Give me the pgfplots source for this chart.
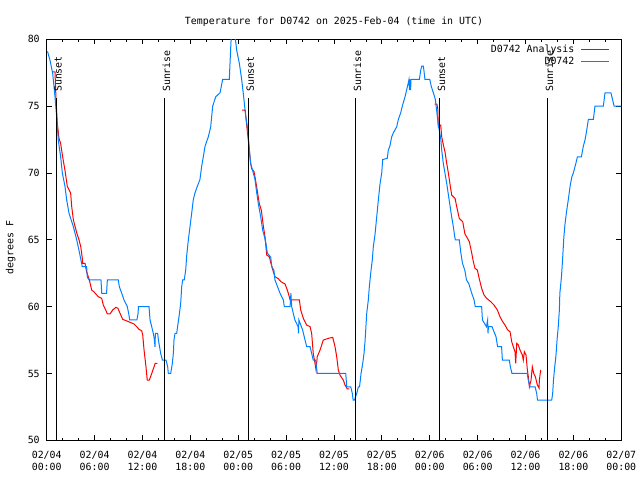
\documentclass[border=0pt]{standalone}
\usepackage{fontspec}
\setmainfont{DejaVu Sans Mono}
\usepackage{pgfplots}
\pgfplotsset{compat=1.18}
\definecolor{obsblue}{RGB}{0,128,255}
\newcommand\gfont{\fontsize{9.9bp}{12bp}\selectfont}
\begin{document}
\gfont
\begin{tikzpicture}
\useasboundingbox (0,0) rectangle (640bp,480bp);
\begin{axis}[
  at={(46.7bp,39.7bp)}, anchor=south west,
  scale only axis, width=574.6bp, height=401bp,
  xmin=0, xmax=72, ymin=50, ymax=80,
  xtick={0,6,...,72},
  xticklabels={{02/04\\00:00},{02/04\\06:00},{02/04\\12:00},{02/04\\18:00},{02/05\\00:00},{02/05\\06:00},{02/05\\12:00},{02/05\\18:00},{02/06\\00:00},{02/06\\06:00},{02/06\\12:00},{02/06\\18:00},{02/07\\00:00}},
  minor x tick num=2,
  ytick={50,55,...,80},
  tick align=inside,
  major tick length=5bp, minor tick length=2.5bp,
  axis line style={line width=0.8bp},
  every tick/.style={black, line width=0.8bp},
  /pgf/number format/assume math mode=true,
  xticklabel style={align=center, font=\gfont, yshift=-7bp},
  yticklabel style={font=\gfont, xshift=-3.5bp},
  title={Temperature for D0742 on 2025-Feb-04 (time in UTC)},
  title style={at={(0.5,1)}, anchor=base, yshift=9.3bp, font=\gfont},
  ylabel={degrees F},
  ylabel style={at={(axis description cs:-0.0578,0.481)}, anchor=base, font=\gfont},
  legend plot pos=right,
  legend cell align=right,
  legend style={at={(axis description cs:1,1)}, anchor=north east, xshift=-11.3bp, yshift=-4bp,
    draw=none, fill=none, inner sep=0pt, font=\gfont, column sep=5bp, row sep=0pt,
    nodes={inner sep=1.15bp, text height=7.5bp, text depth=2.5bp}},
  legend image code/.code={\draw[#1] (0bp,0bp) -- (28.3bp,0bp);},
]
% Analysis (red)
\addplot[red, line width=1bp] coordinates {
(0.7,77.56) (1.04,77.56) (1.17,75.45) (1.33,73.7) (1.54,72.6) (1.75,72.2) (2.0,71.2) (2.29,70.2)
(2.58,69.0) (3.0,68.5) (3.13,67.5) (3.34,66.5) (3.55,66.0) (3.8,65.45) (4.05,65.0) (4.26,64.5)
(4.47,63.6) (4.5,63.24) (4.8,63.24) (5.0,62.6) (5.34,62.0) (5.64,61.24) (5.93,61.1) (6.47,60.74)
(6.89,60.62) (7.1,60.1) (7.39,59.75) (7.6,59.45) (7.93,59.45) (8.27,59.75) (8.68,59.95) (8.93,59.87)
(9.19,59.5) (9.52,59.05) (9.94,58.95) (10.44,58.83) (10.94,58.7) (11.28,58.5) (11.57,58.3) (11.9,58.2)
(12.03,57.88) (12.2,56.75) (12.44,55.5) (12.6,54.5) (12.86,54.5) (13.16,55.0) (13.45,55.5) (13.6,55.76)
(13.86,55.76)
};
\addlegendentry{D0742 Analysis}
\addplot[red, line width=1bp, forget plot] coordinates {
(24.5,74.7) (24.87,74.7) (25.0,73.9) (25.06,73.58) (25.26,72.46) (25.56,70.7) (25.7,70.3) (25.98,70.1)
(26.1,69.7) (26.3,69.0) (26.64,67.7) (26.9,67.2) (27.15,66.0) (27.36,65.2) (27.57,63.86) (27.9,63.73)
(28.1,63.24) (28.4,62.6) (28.6,62.24) (29.0,62.1) (29.36,61.86) (29.86,61.7) (30.07,61.37) (30.28,61.0)
(30.5,60.5) (31.66,60.5) (31.83,59.75) (32.16,59.12) (32.58,58.62) (33.0,58.5) (33.2,58.0) (33.4,56.5)
(33.62,55.76) (33.75,55.26) (33.9,56.25) (34.25,56.75) (34.66,57.5) (35.3,57.63) (35.84,57.7) (36.13,57.0)
(36.34,56.25) (36.54,55.26) (36.75,54.88) (37.17,54.5) (37.38,54.14) (37.67,53.84) (37.92,53.84)
};
\addplot[red, line width=1bp, forget plot] coordinates {
(48.6,75.15) (48.9,75.15) (49.0,74.8) (49.07,73.45) (49.37,73.58) (49.5,72.7) (49.7,72.1) (49.9,71.6)
(50.13,70.7) (50.33,70.0) (50.55,69.1) (50.75,68.35) (51.17,68.1) (51.38,67.47) (51.7,66.6) (52.13,66.35)
(52.4,65.45) (52.83,65.0) (52.96,64.85) (53.26,64.0) (53.46,63.36) (53.67,62.86) (53.96,62.74) (54.2,62.1)
(54.5,61.37) (54.8,60.87) (55.13,60.62) (55.64,60.37) (56.05,60.12) (56.47,59.75) (56.8,59.24) (57.14,58.87)
(57.43,58.62) (57.77,58.25) (58.06,58.12) (58.27,57.37) (58.47,57.0) (58.68,56.63) (58.77,55.76) (58.9,57.25)
(59.1,57.13) (59.31,56.75) (59.6,56.38) (59.72,56.0) (59.85,56.63) (60.06,56.38) (60.23,55.26) (60.35,54.76)
(60.48,54.0) (60.69,54.5) (60.85,55.5) (61.03,55.0) (61.23,54.76) (61.48,54.14) (61.7,53.9) (61.73,54.5)
(61.9,55.26)
};
% Observations (blue)
\addplot[obsblue, line width=1bp] coordinates {
(0.1,79.1) (0.41,78.44) (0.75,77.45) (1.04,75.7) (1.25,74.2) (1.45,72.46) (1.75,71.2) (1.96,70.0)
(2.29,69.0) (2.5,68.0) (2.79,67.0) (3.33,66.0) (3.76,65.0) (4.05,64.2) (4.39,63.2) (4.45,63.0)
(5.0,63.0) (5.09,62.2) (5.3,62.0) (6.8,62.0) (6.9,61.0) (7.5,61.0) (7.6,62.0) (8.97,62.0)
(9.1,61.5) (9.4,61.0) (9.69,60.5) (10.1,60.0) (10.3,59.4) (10.4,59.0) (11.3,59.0) (11.45,59.5)
(11.5,60.0) (12.82,60.0) (12.95,59.0) (13.16,58.5) (13.36,58.0) (13.5,57.5) (13.57,57.0) (13.62,58.0)
(13.9,58.0) (14.0,57.5) (14.28,56.5) (14.5,56.0) (14.95,56.0) (15.16,55.5) (15.24,55.0) (15.54,55.0)
(15.74,55.75) (15.87,56.5) (15.95,57.5) (16.08,58.0) (16.29,58.0) (16.4,58.5) (16.58,59.25) (16.79,60.25)
(16.92,61.5) (17.04,62.0) (17.24,62.0) (17.42,62.75) (17.54,63.8) (17.75,65.0) (17.96,66.0) (18.17,67.0)
(18.37,68.0) (18.58,68.5) (18.87,69.0) (19.2,69.5) (19.42,70.5) (19.62,71.2) (19.84,72.0) (20.25,72.7)
(20.55,73.45) (20.8,75.0) (21.18,75.7) (21.72,76.0) (22.05,77.0) (22.88,77.0) (23.06,79.4) (23.15,80.5)
(23.55,80.5) (23.8,79.2) (24.14,78.2) (24.43,77.0) (24.68,75.7) (24.9,74.45) (25.2,73.2) (25.43,71.5)
(25.56,70.7) (25.89,70.0) (26.1,69.5) (26.32,68.5) (26.52,67.7) (26.82,66.7) (27.07,65.7) (27.3,65.2)
(27.48,64.7) (27.65,64.0) (28.07,63.7) (28.2,63.0) (28.48,62.7) (28.6,62.0) (29.24,61.0) (29.65,60.5)
(29.78,60.0) (30.5,60.0) (30.6,61.0) (30.7,60.0) (31.1,59.0) (31.5,58.5) (31.55,58.0) (31.6,59.0)
(32.07,58.25) (32.37,57.5) (32.58,57.0) (33.0,57.0) (33.2,56.5) (33.4,56.0) (33.7,56.0) (33.9,55.0)
(37.47,55.0) (37.6,54.0) (38.1,54.0) (38.3,53.5) (38.4,53.0) (38.55,53.0) (38.85,53.5) (39.05,54.0)
(39.2,54.0) (39.39,55.0) (39.6,55.76) (39.76,56.5) (39.9,57.5) (40.0,58.5) (40.1,59.5) (40.3,60.5)
(40.43,61.5) (40.6,62.5) (40.8,63.5) (40.93,64.5) (41.14,65.4) (41.35,66.7) (41.56,68.0) (41.77,69.2)
(41.98,70.0) (42.1,71.0) (42.68,71.1) (42.8,71.7) (43.0,72.0) (43.23,72.7) (43.43,73.0) (43.86,73.45)
(44.06,74.0) (44.36,74.5) (44.56,75.0) (44.9,75.7) (45.1,76.2) (45.4,77.0) (45.45,76.2) (45.5,77.0)
(45.6,76.2) (45.65,77.0) (46.7,77.0) (46.87,77.7) (47.0,78.0) (47.2,78.0) (47.4,77.0) (48.0,77.0)
(48.2,76.45) (48.45,76.0) (48.7,75.5) (49.07,73.6) (49.37,72.6) (49.5,71.7) (49.7,70.7) (49.9,70.0)
(50.13,69.2) (50.3,68.5) (50.5,67.7) (50.75,66.7) (50.95,66.0) (51.1,65.35) (51.2,65.0) (51.7,65.0)
(51.9,64.0) (52.1,63.24) (52.4,62.7) (52.6,62.0) (52.9,61.7) (53.26,61.0) (53.55,60.5) (53.7,60.0)
(54.5,60.0) (54.6,59.0) (55.1,58.5) (55.25,59.0) (55.3,58.0) (55.35,58.5) (55.8,58.5) (56.3,57.75)
(56.5,57.0) (57.0,57.0) (57.1,56.0) (57.97,56.0) (58.1,55.5) (58.3,55.0) (60.2,55.0) (60.35,54.5)
(60.56,54.0) (61.2,54.0) (61.4,53.5) (61.5,53.0) (63.28,53.0) (63.4,53.5) (63.5,54.5) (63.66,55.5)
(63.8,56.25) (63.95,57.5) (64.1,58.5) (64.24,59.75) (64.3,61.0) (64.5,62.2) (64.66,63.7) (64.8,65.2)
(64.95,66.2) (65.16,67.2) (65.36,68.0) (65.58,69.0) (65.8,69.7) (65.99,70.0) (66.3,70.7) (66.5,71.2)
(67.0,71.2) (67.24,72.0) (67.45,72.46) (67.67,73.2) (67.87,74.0) (68.5,74.0) (68.7,75.0) (69.75,75.0)
(69.96,76.0) (70.7,76.0) (71.1,75.0) (72.0,75.0)
};
\addlegendentry{D0742}
% Sunset / sunrise markers
\addplot[black, line width=1bp, forget plot] coordinates {(1.17,50) (1.17,75.6)};
\addplot[black, line width=1bp, forget plot] coordinates {(14.74,50) (14.74,75.6)};
\addplot[black, line width=1bp, forget plot] coordinates {(25.26,50) (25.26,75.6)};
\addplot[black, line width=1bp, forget plot] coordinates {(38.67,50) (38.67,75.6)};
\addplot[black, line width=1bp, forget plot] coordinates {(49.2,50) (49.2,75.6)};
\addplot[black, line width=1bp, forget plot] coordinates {(62.73,50) (62.73,75.6)};
\node[rotate=90, anchor=base west, inner sep=0pt, font=\gfont] at ([xshift=5.7bp]axis cs:1.17,76.05) {Sunset};
\node[rotate=90, anchor=base west, inner sep=0pt, font=\gfont] at ([xshift=5.7bp]axis cs:14.74,76.05) {Sunrise};
\node[rotate=90, anchor=base west, inner sep=0pt, font=\gfont] at ([xshift=5.7bp]axis cs:25.26,76.05) {Sunset};
\node[rotate=90, anchor=base west, inner sep=0pt, font=\gfont] at ([xshift=5.7bp]axis cs:38.67,76.05) {Sunrise};
\node[rotate=90, anchor=base west, inner sep=0pt, font=\gfont] at ([xshift=5.7bp]axis cs:49.2,76.05) {Sunset};
\node[rotate=90, anchor=base west, inner sep=0pt, font=\gfont] at ([xshift=5.7bp]axis cs:62.73,76.05) {Sunrise};
\end{axis}
\end{tikzpicture}
\end{document}
